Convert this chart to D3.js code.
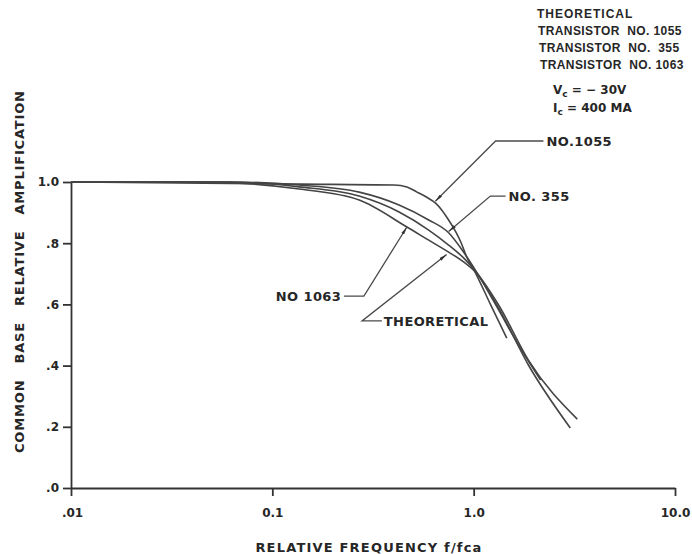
<!DOCTYPE html>
<html>
<head>
<meta charset="utf-8">
<script src="https://cdn.jsdelivr.net/npm/d3@7"></script>
<style>
body { margin: 0; background: #fff; }
text { font-family: "DejaVu Sans", sans-serif; font-weight: bold; fill: #262626; }
text.leg { font-family: "Liberation Sans", Arial, sans-serif; }
</style>
</head>
<body>
<svg width="692" height="554"></svg>
<script>
// values (f/fca, relative amplification)
var freq1055 = [0.01, 0.14, 0.402, 0.466, 0.523, 0.585, 0.649, 0.695, 0.751, 0.815, 0.863, 0.923, 1.01, 1.21, 1.46];
var amp1055  = [1.0, 0.993, 0.990, 0.984, 0.967, 0.950, 0.930, 0.908, 0.876, 0.837, 0.804, 0.755, 0.709, 0.601, 0.490];

var freq355 = [0.01, 0.061, 0.136, 0.27, 0.426, 0.598, 0.751, 0.891, 1.02, 1.33, 1.67, 2.15];
var amp355  = [1.0, 1.0, 0.990, 0.967, 0.925, 0.876, 0.834, 0.771, 0.712, 0.582, 0.467, 0.353];

var freq1063 = [0.01, 0.044, 0.136, 0.27, 0.466, 0.598, 0.751, 0.891, 1.02, 1.33, 1.87, 3.02];
var amp1063  = [1.0, 1.0, 0.977, 0.941, 0.853, 0.810, 0.771, 0.739, 0.706, 0.588, 0.402, 0.196];

var freqTheo = [0.01, 0.061, 0.136, 0.27, 0.426, 0.598, 0.751, 0.891, 1.02, 1.33, 1.87, 3.27];
var ampTheo  = [1.0, 1.0, 0.984, 0.954, 0.902, 0.843, 0.794, 0.752, 0.709, 0.598, 0.418, 0.225];

var xTicks = [0.01, 0.1, 1, 10];
var xTickLabels = [".01", "0.1", "1.0", "10.0"];
var yTicks = [0, 0.2, 0.4, 0.6, 0.8, 1.0];
var yTickLabels = [".0", ".2", ".4", ".6", ".8", "1.0"];

var legendLines = ["THEORETICAL", "TRANSISTOR  NO. 1055", "TRANSISTOR  NO.  355", "TRANSISTOR  NO. 1063"];

var svg = d3.select("svg");
var x = d3.scaleLog().domain([0.01, 10]).range([71, 675]);
var y = d3.scaleLinear().domain([0, 1]).range([488, 182]);
var ink = "#333";
var curveInk = "#444";

svg.append("defs").append("marker")
    .attr("id", "tip")
    .attr("viewBox", "0 0 10 4")
    .attr("refX", 10).attr("refY", 2)
    .attr("markerWidth", 8).attr("markerHeight", 3.5)
    .attr("markerUnits", "userSpaceOnUse")
    .attr("orient", "auto")
    .append("path")
    .attr("d", "M0,0 L10,2 L0,4 Z")
    .attr("fill", ink);

// axes
var yAxis = svg.append("g")
    .attr("transform", "translate(71,0)")
    .call(d3.axisLeft(y)
        .tickValues(yTicks)
        .tickFormat(function (d, i) { return yTickLabels[i]; })
        .tickSize(8)
        .tickSizeOuter(0)
        .tickPadding(4));

var xAxis = svg.append("g")
    .attr("transform", "translate(0,488)")
    .call(d3.axisBottom(x)
        .tickValues(xTicks)
        .tickFormat(function (d, i) { return xTickLabels[i]; })
        .tickSize(8)
        .tickSizeOuter(0)
        .tickPadding(12));

[yAxis, xAxis].forEach(function (g) {
    g.selectAll("path, line").attr("stroke", ink).attr("stroke-width", 1.8);
    g.selectAll("text")
        .style("font-size", "12px")
        .style("font-family", "\"DejaVu Sans\", sans-serif")
        .style("font-weight", "bold")
        .attr("fill", "#262626");
});
xAxis.select(".tick text").attr("dx", 1);

// axis titles
svg.append("text")
    .attr("transform", "translate(24,272) rotate(-90)")
    .attr("text-anchor", "middle")
    .attr("textLength", 362)
    .attr("lengthAdjust", "spacing")
    .style("font-size", "13px")
    .style("white-space", "pre")
    .text("COMMON   BASE   RELATIVE   AMPLIFICATION");

svg.append("text")
    .attr("x", x(0.3))
    .attr("y", 552)
    .attr("text-anchor", "middle")
    .attr("textLength", 226)
    .attr("lengthAdjust", "spacing")
    .style("font-size", "13px")
    .text("RELATIVE FREQUENCY f/fca");

// curves
var line = d3.line()
    .x(function (d) { return x(d[0]); })
    .y(function (d) { return y(d[1]); })
    .curve(d3.curveMonotoneX);

var series = [
    [freq1055, amp1055],
    [freq355, amp355],
    [freq1063, amp1063],
    [freqTheo, ampTheo]
];
series.forEach(function (s) {
    svg.append("path")
        .datum(d3.zip(s[0], s[1]))
        .attr("d", line)
        .attr("fill", "none")
        .attr("stroke", curveInk)
        .attr("stroke-width", 1.6);
});

// leaders and labels, points in (f/fca, amplification)
var notes = [
    { text: "NO.1055", anchor: "start", at: [2.30, 1.134], path: [[2.22, 1.134], [1.285, 1.134], [0.645, 0.937]] },
    { text: "NO. 355", anchor: "start", at: [1.49, 0.954], path: [[1.44, 0.954], [1.21, 0.954], [0.751, 0.838]] },
    { text: "NO 1063", anchor: "end", at: [0.220, 0.627], path: [[0.227, 0.627], [0.285, 0.627], [0.466, 0.853]] },
    { text: "THEORETICAL", anchor: "start", at: [0.358, 0.546], path: [[0.350, 0.546], [0.279, 0.546], [0.734, 0.763]] }
];
var leader = d3.line()
    .x(function (d) { return x(d[0]); })
    .y(function (d) { return y(d[1]); });

notes.forEach(function (n) {
    svg.append("path")
        .attr("d", leader(n.path))
        .attr("fill", "none")
        .attr("stroke", "#4a4a4a")
        .attr("stroke-width", 1.3)
        .attr("marker-end", "url(#tip)");
    svg.append("text")
        .attr("x", x(n.at[0]))
        .attr("y", y(n.at[1]))
        .attr("dy", "0.36em")
        .attr("text-anchor", n.anchor)
        .style("font-size", "13px")
        .style("letter-spacing", "0.4px")
        .style("white-space", "pre")
        .text(n.text);
});

// legend block, top right
var legend = svg.append("g").attr("transform", "translate(537,18)");
legend.selectAll("text.leg")
    .data(legendLines)
    .enter()
    .append("text")
    .classed("leg", true)
    .attr("x", function (d, i) { return i; })
    .attr("y", function (d, i) { return i * 17; })
    .style("font-size", "12px")
    .style("letter-spacing", function (d, i) { return i === 0 ? "1px" : "0.4px"; })
    .style("white-space", "pre")
    .text(function (d) { return d; });

var vc = legend.append("text").attr("x", 16).attr("y", 76).style("font-size", "12px");
vc.append("tspan").text("V");
vc.append("tspan").attr("dy", 3).style("font-size", "9px").text("c");
vc.append("tspan").attr("dy", -3).text(" = \u2212 30V");

var ic = legend.append("text").attr("x", 16).attr("y", 94).style("font-size", "12px");
ic.append("tspan").text("I");
ic.append("tspan").attr("dy", 3).style("font-size", "9px").text("c");
ic.append("tspan").attr("dy", -3).text(" = 400 MA");
</script>
</body>
</html>
